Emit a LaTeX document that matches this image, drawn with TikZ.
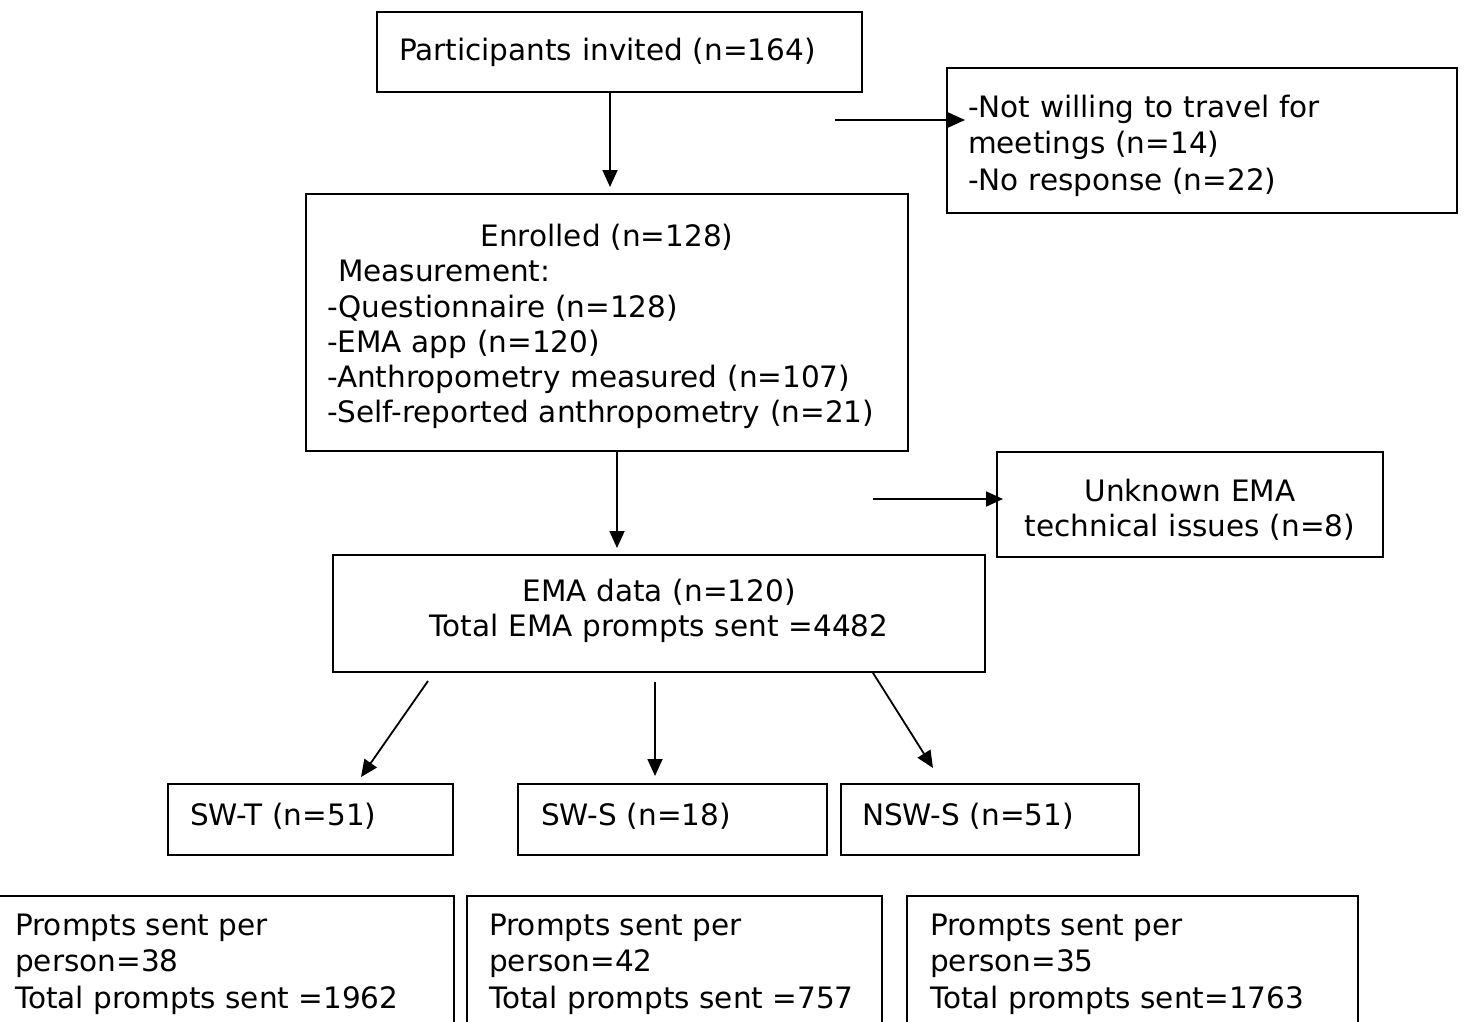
\documentclass[tikz,border=0pt]{standalone}
\usepackage{fontspec}
\setmainfont{DejaVu Sans}
\usetikzlibrary{arrows.meta}
% invisible struts used to balance the text block inside a box
\newcommand{\toppad}[1]{\rule{0pt}{#1}}
\newcommand{\botpad}[1]{\rule[-#1]{0pt}{0pt}}
\begin{document}
\begin{tikzpicture}[x=1pt,y=-1pt,
  font=\fontsize{29.5}{35.2}\selectfont,
  box/.style={draw, line width=1.8pt, rectangle, inner ysep=0pt},
  flow/.style={line width=1.8pt, -{Triangle[length=17pt,width=15pt]}},
]
\useasboundingbox (0,0) rectangle (1465,1021);
\clip (0,0) rectangle (1465,1021);

% top row
\node[box, minimum width=485pt, minimum height=80pt, inner xsep=22pt,
      text width=441pt, align=left] (invited) at (619.5,52)
  {Participants invited (n=164)};
\node[box, minimum width=510pt, minimum height=145pt, inner xsep=21pt,
      text width=468pt, align=left,
      font=\fontsize{29.5}{36.5}\selectfont] (excl) at (1202,140.5)
  {\toppad{33pt}-Not willing to travel for\\meetings (n=14)\\-No response (n=22)};

% enrolment
\node[box, minimum width=602pt, minimum height=257pt, inner xsep=21pt,
      text width=560pt, align=left] (enrolled) at (607,322.5)
  {\toppad{30.5pt}\makebox[\linewidth]{Enrolled (n=128)}\\
   \hspace*{11pt}Measurement:\\
   -Questionnaire (n=128)\\
   -EMA app (n=120)\\
   -Anthropometry measured (n=107)\\
   -Self-reported anthropometry (n=21)};
\node[box, minimum width=386pt, minimum height=105pt, inner xsep=10pt,
      text width=366pt, align=center] (tech) at (1190,504.5)
  {\toppad{32.5pt}Unknown EMA\\technical issues (n=8)};

% EMA data
\node[box, minimum width=652pt, minimum height=117pt, inner xsep=10pt,
      text width=632pt, align=center] (ema) at (659,613.5)
  {EMA data (n=120)\\Total EMA prompts sent =4482\botpad{11.5pt}};

% groups
\node[box, minimum width=285pt, minimum height=71pt, inner xsep=22pt,
      text width=241pt, align=left] (swt) at (310.5,819.5)
  {SW-T (n=51)\botpad{10pt}};
\node[box, minimum width=309pt, minimum height=71pt, inner xsep=23pt,
      text width=263pt, align=left] (sws) at (672.5,819.5)
  {SW-S (n=18)\botpad{10pt}};
\node[box, minimum width=298pt, minimum height=71pt, inner xsep=21pt,
      text width=256pt, align=left] (nsws) at (990,819.5)
  {NSW-S (n=51)\botpad{10pt}};

% prompt summaries (boxes run past the lower edge)
\node[box, anchor=north west, minimum width=463pt, minimum height=200pt] (pt) at (-10,895) {};
\node[box, anchor=north west, minimum width=415pt, minimum height=200pt] (ps) at (466,895) {};
\node[box, anchor=north west, minimum width=451pt, minimum height=200pt] (pn) at (906,895) {};
\tikzset{prompttext/.style={anchor=north west, inner sep=0pt, align=left,
  font=\fontsize{29.5}{36.2}\selectfont}}
\node[prompttext] (ptt) at (15,914)
  {Prompts sent per\\person=38\\Total prompts sent =1962};
\node[prompttext] (pst) at (489,914)
  {Prompts sent per\\person=42\\Total prompts sent =757};
\node[prompttext] (pnt) at (930,914)
  {Prompts sent per\\person=35\\Total prompts sent=1763};

% connector end points
\coordinate (d1) at (610,187);
\coordinate (h1s) at (835,120);
\coordinate (h1e) at (965,120);
\coordinate (d2) at (617,548);
\coordinate (h2s) at (873,499);
\coordinate (h2e) at (1003,499);
\coordinate (t1s) at (428,681);
\coordinate (t1e) at (361,777);
\coordinate (t2s) at (655,682);
\coordinate (t2e) at (655,776);
\coordinate (t3s) at (873,672);
\coordinate (t3e) at (933,768);

\draw[flow] (invited.south -| d1) -- (d1);
\draw[flow] (h1s) -- (h1e);
\draw[flow] (enrolled.south -| d2) -- (d2);
\draw[flow] (h2s) -- (h2e);
\draw[flow] (t1s) -- (t1e);
\draw[flow] (t2s) -- (t2e);
\draw[flow] (ema.south -| t3s) -- (t3e);
\end{tikzpicture}
\end{document}
